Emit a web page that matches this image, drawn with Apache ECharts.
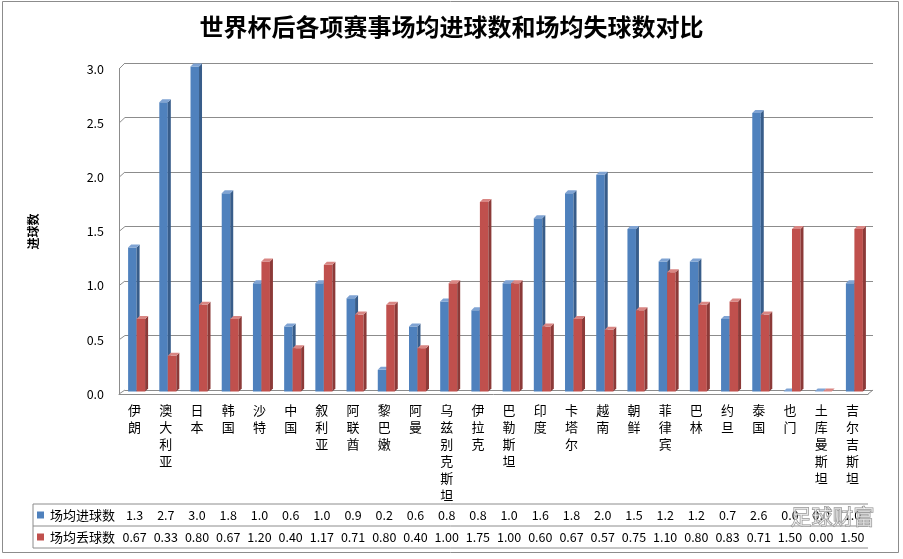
<!DOCTYPE html>
<html>
<head>
<meta charset="utf-8">
<script src="https://cdn.jsdelivr.net/npm/echarts@6/dist/echarts.min.js"></script>
<style>
html,body{margin:0;padding:0;background:#fff;}
#chart{width:903px;height:559px;}
</style>
</head>
<body>
<div id="chart"></div>
<script>
const title = '世界杯后各项赛事场均进球数和场均失球数对比';
const yName = '进球数';
const seriesNames = ['场均进球数', '场均丢球数'];
const categories = ['伊朗','澳大利亚','日本','韩国','沙特','中国','叙利亚','阿联酋','黎巴嫩','阿曼','乌兹别克斯坦','伊拉克','巴勒斯坦','印度','卡塔尔','越南','朝鲜','菲律宾','巴林','约旦','泰国','也门','土库曼斯坦','吉尔吉斯坦'];
const goalsFor = [1.33,2.67,3.0,1.83,1.0,0.6,1.0,0.86,0.2,0.6,0.83,0.75,1.0,1.6,1.83,2.0,1.5,1.2,1.2,0.67,2.57,0,0,1.0];
const goalsAgainst = [0.67,0.33,0.80,0.67,1.20,0.40,1.17,0.71,0.80,0.40,1.00,1.75,1.00,0.60,0.67,0.57,0.75,1.10,0.80,0.83,0.71,1.50,0.00,1.50];
const yTicks = [0, 0.5, 1.0, 1.5, 2.0, 2.5, 3.0];
const watermark = '足球财富';

const FONT = 'Noto Sans CJK SC';
const colors = [
  {front:'#4F81BD', side:'#385D8A', top:'#7FA3D3'},
  {front:'#C0504D', side:'#8C3A38', top:'#D98683'}
];
const forLabels = goalsFor.map(v => v.toFixed(1));
const againstLabels = goalsAgainst.map(v => v.toFixed(2));

function makeRender(k) {
  return function (params, api) {
    const i = api.value(0), v = api.value(1);
    const base = api.coord([i, 0]);
    const top = api.coord([i, v]);
    const c = base[0];
    const lift = 2.5, d = 3;
    const x0 = c + (k === 0 ? -6.5 : 2);
    const x1 = c + (k === 0 ? 2 : 10.5);
    const yb = base[1] - lift, yt = top[1] - lift;
    const col = colors[k];
    return {
      type: 'group',
      children: [
        {type:'rect', shape:{x:x0, y:yt, width:x1-x0, height:Math.max(0, yb-yt)}, style:{fill:col.front}},
        {type:'polygon', shape:{points:[[x1,yb],[x1+d,yb-d],[x1+d,yt-d],[x1,yt]]}, style:{fill:col.side}},
        {type:'polygon', shape:{points:[[x0,yt],[x0+d,yt-d],[x1+d,yt-d],[x1,yt]]}, style:{fill:col.top}}
      ]
    };
  };
}

const chart = echarts.init(document.getElementById('chart'));
const lineColor = '#8c8c8c';
chart.setOption({
  backgroundColor: '#fff',
  animation: false,
  textStyle: {fontFamily: FONT},
  title: {
    text: title, left: 'center', top: 10,
    textStyle: {fontSize: 24, fontWeight: 'bold', color: '#000', fontFamily: FONT}
  },
  legend: {
    orient: 'vertical', left: 37, top: 504, padding: 0, itemGap: 0,
    itemWidth: 7, itemHeight: 7, itemStyle: {borderWidth: 0}, selectedMode: false,
    textStyle: {fontSize: 13, lineHeight: 22, color: '#000', padding: [0,0,0,1]},
    data: seriesNames.map(n => ({name: n, icon: 'rect'}))
  },
  grid: [
    {left: 119, right: 35, top: 69, bottom: 165},
    {left: 125, right: 30, top: 63, bottom: 169}
  ],
  xAxis: [
    {
      type: 'category', gridIndex: 0, data: categories, boundaryGap: true,
      axisLine: {lineStyle: {color: lineColor}},
      axisTick: {length: 154, lineStyle: {color: lineColor}},
      axisLabel: {
        interval: 0, margin: 8, fontSize: 13, lineHeight: 17, color: '#000',
        formatter: v => v.split('').join('\n')
      }
    },
    {
      type: 'category', gridIndex: 0, data: forLabels, position: 'bottom', offset: 121,
      axisLine: {show: false}, axisTick: {show: false},
      axisLabel: {interval: 0, margin: 0, verticalAlign: 'middle', fontSize: 12.5, color: '#000'}
    },
    {
      type: 'category', gridIndex: 0, data: againstLabels, position: 'bottom', offset: 143,
      axisLine: {show: false}, axisTick: {show: false},
      axisLabel: {interval: 0, margin: 0, verticalAlign: 'middle', fontSize: 12.5, color: '#000'}
    },
    {
      type: 'category', gridIndex: 1, data: categories, show: false
    }
  ],
  yAxis: [
    {
      type: 'value', gridIndex: 0, min: 0, max: 3, interval: 0.5,
      axisLine: {show: true, lineStyle: {color: lineColor}},
      axisTick: {show: false}, splitLine: {show: false},
      axisLabel: {margin: 15, fontSize: 12.5, color: '#000', formatter: v => v.toFixed(1)},
      name: yName, nameLocation: 'middle', nameGap: 80, nameRotate: 90,
      nameTextStyle: {fontSize: 12, fontWeight: 'bold', color: '#000'}
    },
    {
      type: 'value', gridIndex: 1, min: 0, max: 3, interval: 0.5,
      axisLine: {show: false}, axisTick: {show: false}, axisLabel: {show: false},
      splitLine: {show: true, lineStyle: {color: lineColor}}
    }
  ],
  series: [
    {
      name: seriesNames[0], type: 'custom', xAxisIndex: 0, yAxisIndex: 0,
      itemStyle: {color: colors[0].front}, encode: {x: 0, y: 1},
      renderItem: makeRender(0),
      data: goalsFor.map((v, i) => [i, v])
    },
    {
      name: seriesNames[1], type: 'custom', xAxisIndex: 0, yAxisIndex: 0,
      itemStyle: {color: colors[1].front}, encode: {x: 0, y: 1},
      renderItem: makeRender(1),
      data: goalsAgainst.map((v, i) => [i, v])
    }
  ]
});

// decorations: side-wall diagonals, floor edge, table lines, border
const g = [];
const xFront0 = chart.convertToPixel({xAxisIndex: 0}, 0) - 0;
const xs = categories.map((c, i) => chart.convertToPixel({xAxisIndex: 0}, i));
const bandW = xs.length > 1 ? xs[1] - xs[0] : 30;
const frontLeft = xs[0] - bandW / 2;
const frontRight = xs[xs.length - 1] + bandW / 2;
const backXs = categories.map((c, i) => chart.convertToPixel({xAxisIndex: 3}, i));
const backLeft = backXs[0] - bandW / 2;
const backRight = backXs[backXs.length - 1] + bandW / 2;
yTicks.forEach(v => {
  const yf = chart.convertToPixel({yAxisIndex: 0}, v);
  const yb = chart.convertToPixel({yAxisIndex: 1}, v);
  g.push({type: 'line', shape: {x1: frontLeft, y1: yf, x2: backLeft, y2: yb}, style: {stroke: lineColor, lineWidth: 1}, silent: true});
});
const yF0 = chart.convertToPixel({yAxisIndex: 0}, 0);
const yB0 = chart.convertToPixel({yAxisIndex: 1}, 0);
g.push({type: 'line', shape: {x1: frontRight, y1: yF0, x2: backRight, y2: yB0}, style: {stroke: lineColor, lineWidth: 1}, silent: true});
// table horizontal lines
const tableLeft = 33;
[504, 526, 548].forEach(y => {
  g.push({type: 'line', shape: {x1: tableLeft, y1: y, x2: frontRight, y2: y}, style: {stroke: lineColor, lineWidth: 1}, silent: true});
});
g.push({type: 'line', shape: {x1: tableLeft, y1: 504, x2: tableLeft, y2: 548}, style: {stroke: lineColor, lineWidth: 1}, silent: true});
// outer border
g.push({type: 'rect', shape: {x: 2.5, y: 1.5, width: 896, height: 551}, style: {fill: 'none', stroke: '#8c8c8c', lineWidth: 1}, silent: true});
// watermark
g.push({type: 'text', left: 790, top: 505, style: {text: watermark, fontSize: 21, fontFamily: FONT, fill: 'rgba(255,255,255,0.55)', stroke: '#8a8a8a', lineWidth: 1}, silent: true, z: 100});
chart.setOption({graphic: g});
</script>
</body>
</html>
